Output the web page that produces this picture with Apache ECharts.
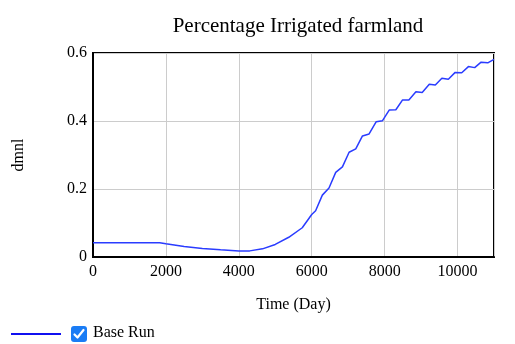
<!DOCTYPE html>
<html>
<head>
<meta charset="utf-8">
<script src="https://cdn.jsdelivr.net/npm/echarts@6/dist/echarts.min.js"></script>
<style>
html,body{margin:0;padding:0;background:#fff;}
#chart{width:515px;height:344px;}
</style>
</head>
<body>
<div id="chart"></div>
<script>
var title = 'Percentage Irrigated farmland';
var seriesName = 'Base Run';
var xTicks = [0, 2000, 4000, 6000, 8000, 10000];
var yTicks = [0, 0.2, 0.4, 0.6];
var times = [0, 1830, 2000, 2500, 3000, 3500, 4000, 4300, 4650, 5000, 5370, 5740, 6000, 6107,
  6291, 6474, 6658, 6842, 7025, 7208, 7392, 7574, 7770, 7942, 8125, 8308, 8492, 8665,
  8858, 9030, 9225, 9390, 9570, 9748, 9935, 10115, 10298, 10470, 10646, 10829, 11000];
var values = [0.042, 0.042, 0.039, 0.031, 0.025, 0.021, 0.018, 0.018, 0.024, 0.037, 0.058, 0.086, 0.125, 0.136,
  0.182, 0.203, 0.249, 0.265, 0.308, 0.318, 0.356, 0.362, 0.398, 0.401, 0.432, 0.433, 0.462, 0.462,
  0.486, 0.484, 0.508, 0.506, 0.526, 0.523, 0.543, 0.542, 0.560, 0.557, 0.573, 0.571, 0.581];

var data = times.map(function(t, i){ return [t, values[i]]; });
var font = 'Liberation Serif';
var labelRich = {s: {fontFamily: font, fontSize: 16, color: '#000'}};
var chart = echarts.init(document.getElementById('chart'), null, {renderer:'canvas'});
chart.setOption({
  animation: false,
  backgroundColor: '#fff',
  textStyle: {fontFamily: font, color: '#000'},
  title: {
    text: title, left: 293, top: 11, textAlign: 'center',
    textStyle: {fontFamily: font, fontSize: 21, fontWeight: 'normal', color: '#000'}
  },
  grid: {left: 93, top: 53, right: 21, bottom: 87, show: true, borderColor: '#000', borderWidth: 2},
  xAxis: {
    type: 'value', min: 0, max: 11000, interval: 2000,
    name: 'Time (Day)', nameLocation: 'middle', nameGap: 40,
    nameTextStyle: {fontFamily: font, fontSize: 16, color: '#000'},
    axisLine: {show: true, lineStyle: {color: '#000', width: 2}},
    axisTick: {show: false},
    axisLabel: {fontFamily: font, fontSize: 16, color: '#000', margin: 7, rich: labelRich,
      formatter: function(v){ return xTicks.indexOf(v) >= 0 ? '{s|' + v + '}' : ''; }},
    splitLine: {show: true, lineStyle: {color: '#cccccc', width: 1}}
  },
  yAxis: {
    type: 'value', min: 0, max: 0.6, interval: 0.2,
    name: 'dmnl', nameLocation: 'middle', nameGap: 66,
    nameTextStyle: {fontFamily: font, fontSize: 16, color: '#000'},
    axisLine: {show: true, lineStyle: {color: '#000', width: 2}},
    axisTick: {show: false},
    axisLabel: {fontFamily: font, fontSize: 16, color: '#000', margin: 6, rich: labelRich,
      formatter: function(v){ var r = Math.round(v*10)/10; return yTicks.indexOf(r) >= 0 ? '{s|' + r + '}' : ''; }},
    splitLine: {show: true, lineStyle: {color: '#cccccc', width: 1}}
  },
  series: [{
    name: seriesName, type: 'line', data: data, showSymbol: false,
    lineStyle: {color: '#2a3cff', width: 1.5}
  }],
  graphic: [
    {type: 'line', shape: {x1: 11, y1: 334, x2: 61, y2: 334}, style: {stroke: '#1010f0', lineWidth: 2}},
    {type: 'rect', shape: {x: 71, y: 326, width: 16, height: 16, r: 3}, style: {fill: '#1a7cf5'}},
    {type: 'polyline', shape: {points: [[74.5, 334.5], [77.5, 337.5], [83.5, 330]]},
      style: {stroke: '#fff', lineWidth: 2.2, fill: null, lineCap: 'round', lineJoin: 'round'}},
    {type: 'text', left: 93, top: 325, style: {text: seriesName, font: '16px "Liberation Serif"', fill: '#000'}}
  ]
});
</script>
</body>
</html>
